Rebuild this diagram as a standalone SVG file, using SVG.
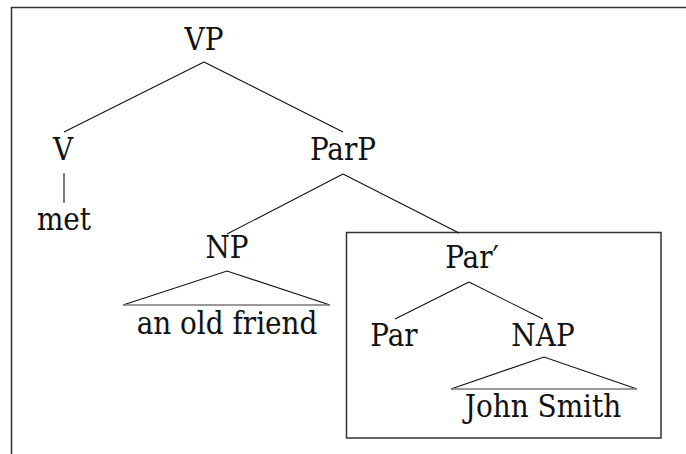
<svg xmlns="http://www.w3.org/2000/svg" width="686" height="454" viewBox="0 0 686 454">
<style>
.lbl{font-family:'DejaVu Serif Condensed','DejaVu Serif',serif;font-stretch:condensed;font-size:31px;fill:#111;text-anchor:middle}
.e{stroke:#111;stroke-width:1.1;fill:none}
.tri{stroke:#111;stroke-width:1.1;fill:none}
.base{stroke:#777;stroke-width:1.3}
.frame{stroke:#333;stroke-width:1.5;fill:none}
</style>
<rect width="686" height="454" fill="#fff"/>
<path class="frame" d="M11.5,454 V7.5 H686"/>
<rect id="box" class="frame" x="346.5" y="232.5" width="314.5" height="205.5"/>
<g id="connectors">
<line class="e" x1="204" y1="62" x2="64" y2="132"/>
<line class="e" x1="204" y1="62" x2="343" y2="132"/>
<line class="e" x1="64" y1="173" x2="64" y2="203"/>
<line class="e" x1="343" y1="174" x2="227" y2="234"/>
<line class="e" x1="343" y1="174" x2="459" y2="233"/>
<line class="e" x1="469" y1="282" x2="395" y2="319"/>
<line class="e" x1="469" y1="282" x2="543" y2="319"/>
<polyline class="tri" points="123,305 227,271 330,305"/>
<line class="base" x1="123" y1="305" x2="330" y2="305"/>
<polyline class="tri" points="451,389 544,357 637,389"/>
<line class="base" x1="451" y1="389" x2="637" y2="389"/>
</g>
<g class="lbl">
<g id="VP"><text x="204" y="50">VP</text></g>
<g id="V"><text x="63" y="160">V</text></g>
<g id="met"><text x="64" y="230">met</text></g>
<g id="ParP"><text x="343" y="160">ParP</text></g>
<g id="NP"><text x="227" y="258">NP</text></g>
<g id="an-old-friend"><text x="227" y="334">an old friend</text></g>
<g id="ParBar"><text x="472" y="268">Par′</text></g>
<g id="Par"><text x="394" y="346">Par</text></g>
<g id="NAP"><text x="543" y="346">NAP</text></g>
<g id="John-Smith"><text x="543" y="417">John Smith</text></g>
</g>
</svg>
